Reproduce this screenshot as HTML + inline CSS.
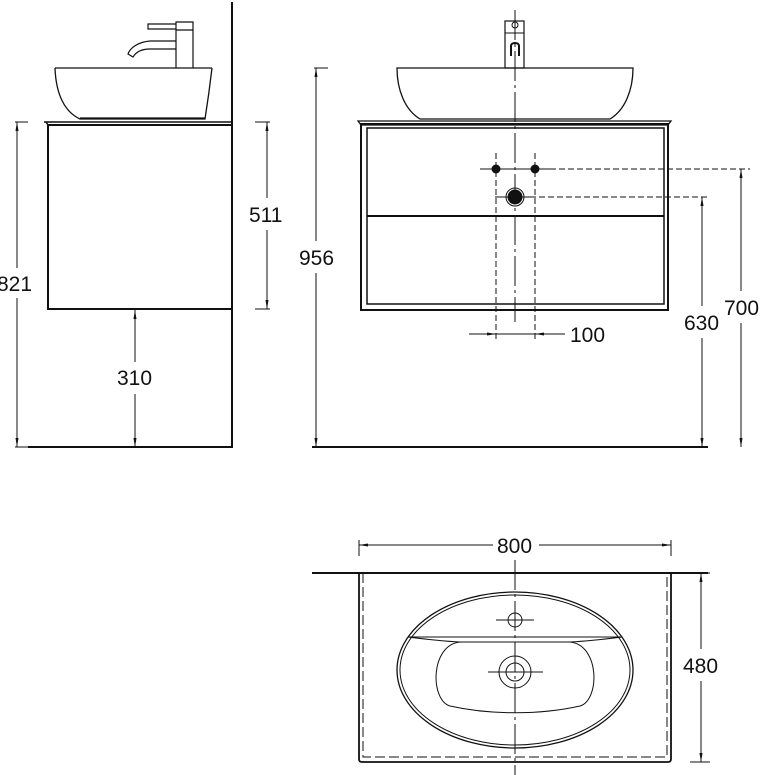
<!DOCTYPE html>
<html><head><style>body{margin:0;background:#fff}svg{display:block}text{font-family:"Liberation Sans",sans-serif;font-size:21px;fill:#111}</style></head>
<body>
<svg width="761" height="775" viewBox="0 0 761 775" xmlns="http://www.w3.org/2000/svg">
<defs>
<marker id="a" viewBox="0 0 10 10" refX="10" refY="5" markerWidth="9" markerHeight="9" orient="auto-start-reverse"><path d="M0,3.3 L10,5 L0,6.7 z" fill="#111"/></marker>
</defs>
<g stroke="#111" fill="none" stroke-width="1">
<line x1="232" y1="2" x2="232" y2="448" stroke-width="2"/>
<line x1="28" y1="447" x2="233" y2="447" stroke-width="2"/>
<path d="M44,122 L232,122 M46,122 L48,125" stroke-width="1.5"/>
<rect x="48" y="125" width="184" height="184" stroke-width="2"/>
<path d="M55,68 L212,68 M55,68 C56,95 65,112 80,119 L205,119 C208,100 210,85 212,68 M80,118 L205,118" stroke-width="1.3"/>
<path d="M176,68 L176,30 L193,30 L193,68 M176,30 L176,22 L193,22 L193,30 M148,24 L176,24 L176,29 L148,29 Z" stroke-width="1.2"/>
<path d="M176,41 L150,41 C138,42 130,48 128,54 L133,57 C136,52 142,49 150,49 L176,49" stroke-width="1.2"/>
<line x1="15" y1="122" x2="28" y2="122"/><line x1="15" y1="447" x2="28" y2="447"/>
<line x1="17" y1="122" x2="17" y2="268" marker-start="url(#a)"/><line x1="17" y1="298" x2="17" y2="447" marker-end="url(#a)"/>
<line x1="255" y1="122" x2="270" y2="122"/><line x1="255" y1="309" x2="270" y2="309"/>
<line x1="267" y1="122" x2="267" y2="198" marker-start="url(#a)"/><line x1="267" y1="230" x2="267" y2="309" marker-end="url(#a)"/>
<line x1="135" y1="310" x2="135" y2="362" marker-start="url(#a)"/><line x1="135" y1="394" x2="135" y2="447" marker-end="url(#a)"/>
<line x1="312" y1="447" x2="708" y2="447" stroke-width="2"/>
<line x1="314" y1="68" x2="328" y2="68"/>
<line x1="316" y1="68" x2="316" y2="241" marker-start="url(#a)"/><line x1="316" y1="273" x2="316" y2="447" marker-end="url(#a)"/>
<path d="M397,68 L633,68 C633,90 625,110 610,119 L420,119 C405,110 397,90 397,68 Z" stroke-width="1.3"/>
<rect x="505" y="21" width="19" height="47" stroke-width="1.2"/>
<circle cx="515" cy="25" r="3"/><line x1="505" y1="33" x2="524" y2="33"/>
<path d="M511,56 L511,46 C511,42 519,42 519,46 L519,56" stroke-width="2"/>
<path d="M358,121 L671,121 L668,125 L361,125 Z" stroke-width="1.3"/>
<rect x="361" y="124" width="307" height="186" stroke-width="2"/>
<rect x="367" y="128" width="297" height="176" stroke-width="1.5"/>
<line x1="367" y1="216" x2="664" y2="216" stroke-width="2"/>
<line x1="515" y1="10" x2="515" y2="322" stroke-dasharray="30,4,3,4"/>
<line x1="480" y1="169" x2="550" y2="169"/>
<line x1="496" y1="153" x2="496" y2="340" stroke-dasharray="6,3"/>
<line x1="535" y1="153" x2="535" y2="340" stroke-dasharray="6,3"/>
<circle cx="496" cy="169" r="4" fill="#111"/><circle cx="535" cy="169" r="4" fill="#111"/>
<line x1="550" y1="169" x2="750" y2="169" stroke-dasharray="6,3"/>
<line x1="495" y1="197" x2="530" y2="197"/>
<line x1="530" y1="197" x2="708" y2="197" stroke-dasharray="6,3"/>
<circle cx="515" cy="197" r="9"/><circle cx="515" cy="197" r="7" fill="#111"/>
<line x1="741" y1="169" x2="741" y2="291" marker-start="url(#a)"/><line x1="741" y1="323" x2="741" y2="447" marker-end="url(#a)"/>
<line x1="702" y1="197" x2="702" y2="306" marker-start="url(#a)"/><line x1="702" y1="338" x2="702" y2="447" marker-end="url(#a)"/>
<line x1="469" y1="334" x2="496" y2="334" marker-end="url(#a)"/>
<line x1="565" y1="334" x2="535" y2="334" marker-end="url(#a)"/>
<line x1="496" y1="334" x2="535" y2="334"/>
<line x1="359" y1="540" x2="359" y2="556"/><line x1="671" y1="540" x2="671" y2="556"/>
<line x1="359" y1="545" x2="493" y2="545" marker-start="url(#a)"/><line x1="539" y1="545" x2="671" y2="545" marker-end="url(#a)"/>
<line x1="312" y1="573" x2="708" y2="573" stroke-width="2"/>
<path d="M359,573 L359,759 Q359,762 362,762 L668,762 Q671,762 671,759 L671,573" stroke-width="1.8"/>
<path d="M363,573 L363,757 L667,757 L667,573" stroke-dasharray="10,4"/>
<ellipse cx="515" cy="670" rx="118" ry="78" stroke-width="1.3"/>
<ellipse cx="515" cy="670" rx="115" ry="75"/>
<path d="M408,637 L622,637 M408,637 Q440,641 460,642 M622,637 Q590,641 570,642"/>
<path d="M460,642 L570,642 C600,645 600,700 580,706 C540,715 490,715 450,706 C430,700 430,645 460,642 Z"/>
<circle cx="515" cy="620" r="7"/><line x1="496" y1="620" x2="534" y2="620"/>
<circle cx="515" cy="672" r="16"/><circle cx="515" cy="672" r="9"/>
<line x1="488" y1="672" x2="543" y2="672"/>
<line x1="515" y1="560" x2="515" y2="775" stroke-dasharray="30,4,3,4"/>
<line x1="690" y1="573" x2="710" y2="573"/><line x1="690" y1="762" x2="710" y2="762"/>
<line x1="701" y1="573" x2="701" y2="649" marker-start="url(#a)"/><line x1="701" y1="681" x2="701" y2="762" marker-end="url(#a)"/>
</g>
<text x="-3" y="291">821</text>
<text x="249" y="222">511</text>
<text x="117" y="385">310</text>
<text x="299" y="265">956</text>
<text x="724" y="315">700</text>
<text x="684" y="330">630</text>
<text x="570" y="342">100</text>
<text x="497" y="553">800</text>
<text x="683" y="673">480</text>
</svg>
</body></html>
